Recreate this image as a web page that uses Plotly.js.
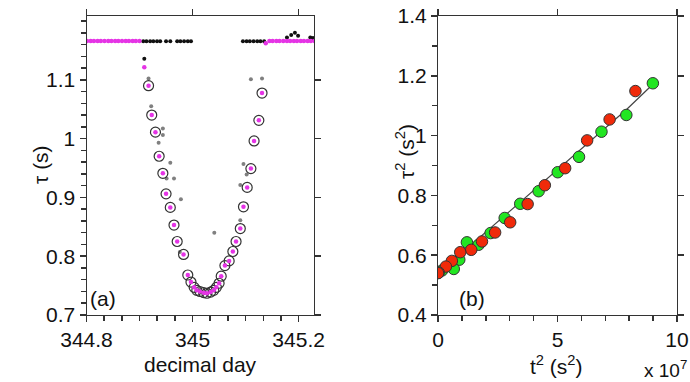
<!DOCTYPE html>
<html>
<head>
<meta charset="utf-8">
<script src="https://cdn.plot.ly/plotly-3.0.1.min.js"></script>
<style>html,body{margin:0;padding:0;background:#fff;}#chart{width:690px;height:382px;}</style>
</head>
<body>
<div id="chart"></div>
<script>
// ---------- Panel (a): tau vs decimal day ----------
const dayBaseL = [344.801, 344.808, 344.814, 344.821, 344.827, 344.834, 344.841, 344.847, 344.854, 344.860, 344.867, 344.874, 344.880, 344.887, 344.893, 344.900];
const tauBaseL = [1.166, 1.166, 1.166, 1.166, 1.166, 1.166, 1.166, 1.166, 1.166, 1.166, 1.166, 1.166, 1.166, 1.166, 1.166, 1.166];
const dayBaseR = [345.145, 345.151, 345.158, 345.164, 345.171, 345.178, 345.184, 345.191, 345.197, 345.204, 345.210, 345.217, 345.223, 345.230];
const tauBaseR = [1.166, 1.166, 1.166, 1.166, 1.166, 1.166, 1.166, 1.166, 1.166, 1.166, 1.166, 1.166, 1.166, 1.166];
const dayMagExtra = [344.909, 345.138];
const tauMagExtra = [1.1215, 1.1622];

const dayDip = [344.917, 344.923, 344.930, 344.937, 344.944, 344.950, 344.958, 344.965, 344.971, 344.983, 344.991, 344.997, 345.003, 345.008, 345.014, 345.021, 345.027, 345.034, 345.040, 345.045, 345.050, 345.054, 345.061, 345.069, 345.076, 345.082, 345.090, 345.096, 345.103, 345.110, 345.116, 345.125, 345.131];
const tauDip = [1.090, 1.040, 1.011, 0.970, 0.941, 0.906, 0.883, 0.853, 0.825, 0.803, 0.768, 0.756, 0.747, 0.742, 0.740, 0.738, 0.737, 0.739, 0.742, 0.747, 0.754, 0.766, 0.784, 0.792, 0.808, 0.825, 0.847, 0.884, 0.917, 0.949, 0.996, 1.031, 1.0775];

const dayBlack = [344.907, 344.909, 344.913, 344.920, 344.926, 344.933, 344.939, 344.950, 344.958, 344.971, 344.977, 344.984, 344.991, 344.997, 345.095, 345.102, 345.108, 345.115, 345.122, 345.128, 345.135, 345.178, 345.186, 345.193, 345.199, 345.222, 345.227];
const tauBlack = [1.1655, 1.1356, 1.1655, 1.1655, 1.1655, 1.1655, 1.1655, 1.1655, 1.1655, 1.1655, 1.1655, 1.1655, 1.1655, 1.1655, 1.1655, 1.1655, 1.1655, 1.1655, 1.1655, 1.1655, 1.1655, 1.172, 1.176, 1.180, 1.175, 1.172, 1.171];

const dayGrey = [344.917, 344.922, 344.936, 344.944, 344.944, 344.951, 344.958, 344.965, 344.976, 344.978, 345.041, 345.090, 345.090, 345.096, 345.102, 345.110, 345.131];
const tauGrey = [1.102, 1.055, 0.993, 1.017, 1.006, 0.932, 0.959, 0.932, 0.807, 0.897, 0.840, 0.861, 0.921, 0.957, 0.939, 1.101, 1.102];

const dayTicks = [344.8, 345.0, 345.2];
const dayTickText = ['344.8', '345', '345.2'];
const dayMinorTicks = [344.8333, 344.8667, 344.9, 344.9333, 344.9667, 345.0333, 345.0667, 345.1, 345.1333, 345.1667];
const tauTicks = [0.7, 0.8, 0.9, 1.0, 1.1];
const tauTickText = ['0.7', '0.8', '0.9', '1', '1.1'];
const tauMinorTicks = [0.72, 0.74, 0.76, 0.78, 0.82, 0.84, 0.86, 0.88, 0.92, 0.94, 0.96, 0.98, 1.02, 1.04, 1.06, 1.08, 1.12, 1.14, 1.16, 1.18, 1.2];

// ---------- Panel (b): tau^2 vs t^2 (t^2 in units of 1e7 s^2) ----------
const t2Green = [8.99, 7.88, 6.84, 5.90, 5.01, 4.21, 3.44, 2.79, 2.20, 1.70, 1.21, 0.89, 0.66, 0.17];
const tau2Green = [1.175, 1.069, 1.013, 0.929, 0.8775, 0.814, 0.772, 0.7245, 0.674, 0.635, 0.643, 0.585, 0.554, 0.549];
const t2Red = [8.26, 7.18, 6.24, 5.32, 4.47, 3.75, 3.02, 2.39, 1.84, 1.39, 0.93, 0.58, 0.33, 0.03, 0.0];
const tau2Red = [1.149, 1.054, 0.984, 0.891, 0.834, 0.771, 0.710, 0.676, 0.646, 0.618, 0.610, 0.581, 0.562, 0.542, 0.540];
const t2Fit = [0, 3.2, 7.9, 9.1];
const tau2Fit = [0.538, 0.762, 1.088, 1.18];

const t2Ticks = [0, 5, 10];
const t2TickText = ['0', '5', '10'];
const t2MinorTicks = [1, 2, 3, 4, 6, 7, 8, 9];
const tau2Ticks = [0.4, 0.6, 0.8, 1.0, 1.2, 1.4];
const tau2TickText = ['0.4', '0.6', '0.8', '1', '1.2', '1.4'];
const tau2MinorTicks = [0.5, 0.7, 0.9, 1.1, 1.3];

const FONT = 'Liberation Sans, Arial, Helvetica, sans-serif';
const AX = '#333';
const TICKF = {family: FONT, size: 21, color: '#111'};

const traces = [
  {x: dayGrey, y: tauGrey, xaxis: 'x', yaxis: 'y', mode: 'markers', type: 'scatter',
   marker: {size: 4, color: '#808080'}},
  {x: dayBlack, y: tauBlack, xaxis: 'x', yaxis: 'y', mode: 'markers', type: 'scatter',
   marker: {size: 4, color: '#111'}},
  {x: dayDip, y: tauDip, xaxis: 'x', yaxis: 'y', mode: 'markers', type: 'scatter',
   marker: {size: 10, color: 'rgba(0,0,0,0)', line: {color: '#333', width: 1.2}}},
  {x: dayBaseL.concat(dayMagExtra, dayDip, dayBaseR), y: tauBaseL.concat(tauMagExtra, tauDip, tauBaseR),
   xaxis: 'x', yaxis: 'y', mode: 'markers', type: 'scatter',
   marker: {size: 4.5, color: '#e534e5'}},
  {x: t2Fit, y: tau2Fit, xaxis: 'x2', yaxis: 'y2', mode: 'lines', type: 'scatter',
   line: {color: '#444', width: 1.2}},
  {x: t2Green, y: tau2Green, xaxis: 'x2', yaxis: 'y2', mode: 'markers', type: 'scatter',
   marker: {size: 11.5, color: '#22e622', line: {color: '#333', width: 1}}},
  {x: t2Red, y: tau2Red, xaxis: 'x2', yaxis: 'y2', mode: 'markers', type: 'scatter',
   marker: {size: 11.5, color: '#f02a0a', line: {color: '#333', width: 1}}},
  // empty traces so the mirror-tick axes get drawn
  {x: [], y: [], xaxis: 'x3', yaxis: 'y3', mode: 'markers', type: 'scatter'},
  {x: [], y: [], xaxis: 'x4', yaxis: 'y4', mode: 'markers', type: 'scatter'}
];

const xa = [86.5/690, 314/690];
const xb = [438/690, 677/690];
const yd = [1 - 315/382, 1 - 16/382];
const xRangeA = [344.8, 345.229];
const yRangeA = [0.7, 1.2085];
const xRangeB = [0, 10];
const yRangeB = [0.4, 1.4];

function mainAxis(dom, rng, tv, tt, minorTv, anchor) {
  return {domain: dom, range: rng, anchor: anchor,
    tickmode: 'array', tickvals: tv, ticktext: tt, ticks: 'outside', ticklen: 6, tickwidth: 1.5, tickcolor: AX,
    minor: {tickmode: 'array', tickvals: minorTv, ticks: 'outside', ticklen: 5, tickwidth: 1.5, tickcolor: AX},
    showline: true, linecolor: AX, mirror: true, showgrid: false, zeroline: false,
    tickfont: TICKF};
}
function tickAxis(dom, rng, tv, side, anchor) {
  return {domain: dom, range: rng, side: side, anchor: anchor,
    tickmode: 'array', tickvals: tv, ticks: 'outside', ticklen: 6, tickwidth: 1.5, tickcolor: AX,
    showticklabels: false, showgrid: false, zeroline: false};
}

const layout = {
  width: 690, height: 382,
  margin: {l: 0, r: 0, t: 0, b: 0},
  plot_bgcolor: 'rgba(0,0,0,0)',
  showlegend: false,
  xaxis: mainAxis(xa, xRangeA, dayTicks, dayTickText, dayMinorTicks, 'y'),
  yaxis: mainAxis(yd, yRangeA, tauTicks, tauTickText, tauMinorTicks, 'x'),
  xaxis2: mainAxis(xb, xRangeB, t2Ticks, t2TickText, t2MinorTicks, 'y2'),
  yaxis2: mainAxis(yd, yRangeB, tau2Ticks, tau2TickText, tau2MinorTicks, 'x2'),
  // mirrored major ticks (top/right)
  xaxis3: tickAxis(xa, xRangeA, dayTicks, 'top', 'y3'),
  yaxis3: tickAxis(yd, yRangeA, tauTicks, 'right', 'x3'),
  xaxis4: tickAxis(xb, xRangeB, t2Ticks, 'top', 'y4'),
  yaxis4: tickAxis(yd, yRangeB, tau2Ticks, 'right', 'x4'),
  annotations: [
    {text: 'τ (s)', xref: 'paper', yref: 'paper', x: 40/690, y: 1 - 165/382, xanchor: 'center', yanchor: 'middle', textangle: -90, showarrow: false, font: {family: FONT, size: 21, color: '#111'}},
    {text: 'τ<sup>2</sup> (s<sup>2</sup>)', xref: 'paper', yref: 'paper', x: 405/690, y: 1 - 152/382, xanchor: 'center', yanchor: 'middle', textangle: -90, showarrow: false, font: {family: FONT, size: 21, color: '#111'}},
    {text: 'decimal day', xref: 'paper', yref: 'paper', x: 200/690, y: 1 - 364/382, xanchor: 'center', yanchor: 'middle', showarrow: false, font: {family: FONT, size: 21, color: '#111'}},
    {text: 't<sup>2</sup> (s<sup>2</sup>)', xref: 'paper', yref: 'paper', x: 556/690, y: 1 - 365/382, xanchor: 'center', yanchor: 'middle', showarrow: false, font: {family: FONT, size: 21, color: '#111'}},
    {text: 'x 10<sup>7</sup>', xref: 'paper', yref: 'paper', x: 665/690, y: 1 - 369/382, xanchor: 'center', yanchor: 'middle', showarrow: false, font: {family: FONT, size: 19, color: '#111'}},
    {text: '(a)', xref: 'paper', yref: 'paper', x: 103/690, y: 1 - 298/382, xanchor: 'center', yanchor: 'middle', showarrow: false, font: {family: FONT, size: 21, color: '#111'}},
    {text: '(b)', xref: 'paper', yref: 'paper', x: 472/690, y: 1 - 298/382, xanchor: 'center', yanchor: 'middle', showarrow: false, font: {family: FONT, size: 21, color: '#111'}}
  ]
};

Plotly.newPlot('chart', traces, layout, {staticPlot: true});
</script>
</body>
</html>
